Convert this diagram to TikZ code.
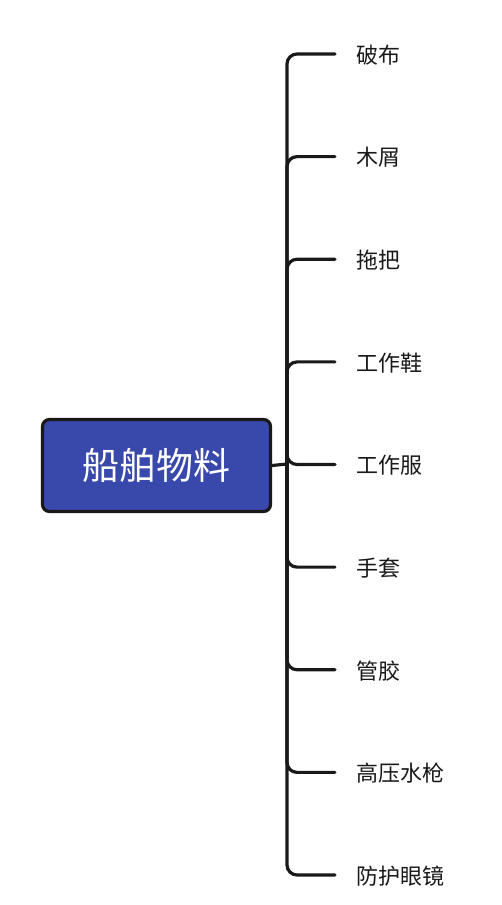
\documentclass[tikz,border=0pt]{standalone}
\usepackage{fontspec}
\setmainfont{Noto Sans CJK SC}
\begin{document}
\begin{tikzpicture}[x=1pt,y=-1pt,
  rootbox/.style={draw=black!90, line width=3.2pt, fill={rgb,255:red,57;green,73;blue,171}, rounded corners=7pt, minimum width=228pt, minimum height=92pt, inner sep=0pt, text=white, font=\fontsize{37}{44}\selectfont},
  leaf/.style={anchor=west, inner sep=0pt, text=black!90, font=\fontsize{22}{26}\selectfont},
  branch/.style={draw=black!90, line width=3.2pt, rounded corners=10pt, line cap=round}]
\useasboundingbox (0,0) rectangle (501,905);
\node[rootbox] (root) at (156.5,465.5) {船舶物料};
\coordinate (j) at (287,464);
\foreach \t [count=\i] in {破布,木屑,拖把,工作鞋,工作服,手套,管胶,高压水枪,防护眼镜} {
  \pgfmathsetmacro{\yy}{54+(\i-1)*102.625}
  \node[leaf] (l\i) at (356,\yy+1) {\t};
  \coordinate (e\i) at (335,\yy);
}
\draw[branch, rounded corners=0pt] (root.east) -- (j);
\foreach \i in {1,...,9} {
  \draw[branch] (j) |- (e\i);
}
\end{tikzpicture}
\end{document}
